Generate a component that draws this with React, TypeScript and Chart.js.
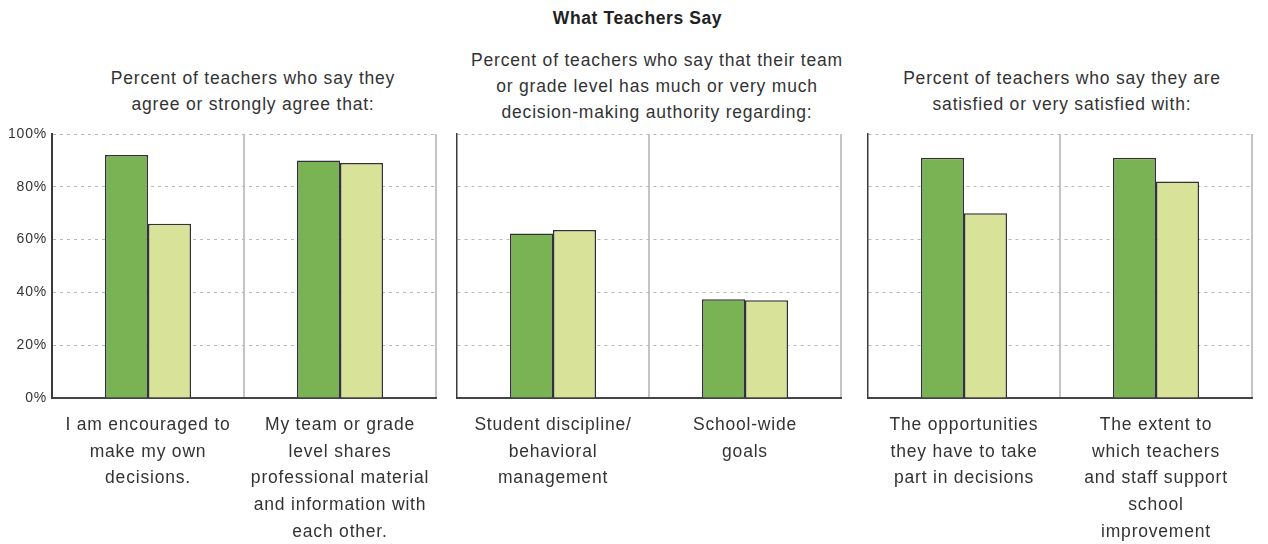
import React, { useEffect, useRef } from "react";
import { Chart, registerables } from "chart.js";

Chart.register(...registerables);

// ---------- data ----------
const chartTitle = "What Teachers Say";

const panel1Title = ["Percent of teachers who say they", "agree or strongly agree that:"];
const panel2Title = [
  "Percent of teachers who say that their team",
  "or grade level has much or very much",
  "decision-making authority regarding:",
];
const panel3Title = ["Percent of teachers who say they are", "satisfied or very satisfied with:"];

const panel1Categories = [
  ["I am encouraged to", "make my own", "decisions."],
  ["My team or grade", "level shares", "professional material", "and information with", "each other."],
];
const panel2Categories = [
  ["Student discipline/", "behavioral", "management"],
  ["School-wide", "goals"],
];
const panel3Categories = [
  ["The opportunities", "they have to take", "part in decisions"],
  ["The extent to", "which teachers", "and staff support", "school", "improvement"],
];

const seriesNames = ["Series 1", "Series 2"];
const panel1Series1 = [92, 90];
const panel1Series2 = [66, 89];
const panel2Series1 = [62.3, 37.4];
const panel2Series2 = [63.6, 37];
const panel3Series1 = [91, 91];
const panel3Series2 = [70, 82];

const yTickValues = [0, 20, 40, 60, 80, 100];
const yTickLabels = ["0%", "20%", "40%", "60%", "80%", "100%"];

// ---------- style ----------
const FONT = "'Liberation Sans', Arial, Helvetica, sans-serif";
const TEXT = "#333333";
const DARK_GREEN = "#79B353";
const LIGHT_GREEN = "#D8E399";
const BAR_BORDER = "#333333";
const SPACING = "0.8px";

Chart.defaults.font.family = FONT;

const letterSpacingPlugin = {
  id: "letterSpacing",
  beforeDraw(chart: any) {
    try {
      chart.ctx.letterSpacing = SPACING;
    } catch (e) {}
  },
};

type PanelProps = {
  categories: string[][];
  s1: number[];
  s2: number[];
  left: number;
  width: number;
  yWidth: number;
  rightPad: number;
  showY: boolean;
  yBorderWidth: number;
};

function Panel(p: PanelProps) {
  const ref = useRef<HTMLCanvasElement | null>(null);
  useEffect(() => {
    if (!ref.current) return;
    const chart = new Chart(ref.current, {
      type: "bar",
      data: {
        labels: p.categories as any,
        datasets: [
          {
            label: seriesNames[0],
            data: p.s1,
            backgroundColor: DARK_GREEN,
            borderColor: BAR_BORDER,
            borderWidth: 1.5,
            categoryPercentage: 0.448,
            barPercentage: 1,
          },
          {
            label: seriesNames[1],
            data: p.s2,
            backgroundColor: LIGHT_GREEN,
            borderColor: BAR_BORDER,
            borderWidth: 1.5,
            categoryPercentage: 0.448,
            barPercentage: 1,
          },
        ],
      },
      options: {
        responsive: false,
        animation: false,
        devicePixelRatio: 1,
        layout: { padding: { top: 14, right: p.rightPad, left: 0, bottom: 0 } },
        plugins: {
          legend: { display: false },
          title: { display: false },
          tooltip: { enabled: false },
        },
        scales: {
          x: {
            grid: {
              color: (c: any) => (c.index === 0 ? "rgba(0,0,0,0)" : "#c4c4c4"),
              lineWidth: 2,
              offset: true,
              drawTicks: false,
            },
            border: { display: true, color: "#444444", width: 2 },
            ticks: {
              color: TEXT,
              font: { family: FONT, size: 17.5, lineHeight: 1.52 },
              padding: 14,
              maxRotation: 0,
              minRotation: 0,
              autoSkip: false,
            },
            afterFit: (s: any) => {
              s.height = 146;
            },
          },
          y: {
            min: 0,
            max: 100,
            afterBuildTicks: (s: any) => {
              s.ticks = yTickValues.map((v) => ({ value: v }));
            },
            ticks: {
              display: p.showY,
              color: TEXT,
              font: { family: FONT, size: 14 },
              padding: 5,
              callback: (_v: any, i: number) => yTickLabels[i],
            },
            grid: {
              color: (c: any) => (c.index === 0 ? "rgba(0,0,0,0)" : "#b8b8b8"),
              lineWidth: 1,
              drawTicks: false,
            },
            border: { display: true, color: "#3a3a3a", width: p.yBorderWidth, dash: [3, 4] },
            afterFit: (s: any) => {
              s.width = p.yWidth;
            },
          },
        },
      } as any,
      plugins: [letterSpacingPlugin],
    });
    return () => chart.destroy();
  }, []);
  return (
    <canvas
      ref={ref}
      width={p.width}
      height={424}
      style={{ position: "absolute", left: p.left, top: 120, width: p.width, height: 424, display: "block" }}
    />
  );
}

function Subtitle({ lines, center, top }: { lines: string[]; center: number; top: number }) {
  return (
    <div
      style={{
        position: "absolute",
        left: center - 250,
        width: 500,
        top,
        textAlign: "center",
        fontFamily: FONT,
        fontSize: 17.5,
        lineHeight: "26px",
        letterSpacing: SPACING,
        color: TEXT,
        whiteSpace: "nowrap",
      }}
    >
      {lines.map((l, i) => (
        <div key={i}>{l}</div>
      ))}
    </div>
  );
}

export default function App() {
  return (
    <div
      style={{
        position: "fixed",
        left: 0,
        top: 0,
        width: 1268,
        height: 544,
        background: "#ffffff",
        overflow: "hidden",
      }}
    >
      <div
        style={{
          position: "absolute",
          left: 0,
          width: 1275,
          top: 7,
          textAlign: "center",
          fontFamily: FONT,
          fontWeight: "bold",
          fontSize: 17.5,
          lineHeight: "22px",
          letterSpacing: "0.6px",
          color: "#222222",
        }}
      >
        {chartTitle}
      </div>
      <Subtitle lines={panel1Title} center={253} top={65} />
      <Subtitle lines={panel2Title} center={657} top={47} />
      <Subtitle lines={panel3Title} center={1062} top={65} />
      <Panel
        categories={panel1Categories}
        s1={panel1Series1}
        s2={panel1Series2}
        left={0}
        width={446}
        yWidth={52}
        rightPad={10}
        showY={true}
        yBorderWidth={2}
      />
      <Panel
        categories={panel2Categories}
        s1={panel2Series1}
        s2={panel2Series2}
        left={447}
        width={404}
        yWidth={10}
        rightPad={10}
        showY={false}
        yBorderWidth={1.5}
      />
      <Panel
        categories={panel3Categories}
        s1={panel3Series1}
        s2={panel3Series2}
        left={858}
        width={404}
        yWidth={10}
        rightPad={10}
        showY={false}
        yBorderWidth={1.5}
      />
    </div>
  );
}
